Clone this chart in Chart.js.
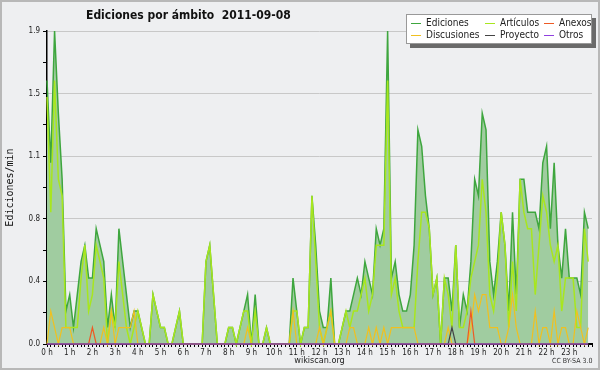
<!DOCTYPE html>
<html>
<head>
<meta charset="utf-8">
<script src="https://cdn.jsdelivr.net/npm/chart.js@4.4.1/dist/chart.umd.min.js"></script>
<style>
  body { margin: 0; background: #eeeff1; }
  #wrap { position: relative; width: 600px; height: 370px; overflow: hidden;
          font-family: "DejaVu Sans Condensed", "DejaVu Sans", sans-serif; }
  #frame { position: absolute; left: 0; top: 0; width: 600px; height: 370px; box-sizing: border-box;
           border: 2px solid #b8b8b8; pointer-events: none; }
  #title { position: absolute; left: 86px; top: 8px; font-weight: bold; font-size: 12px;
           white-space: pre; color: #111; }
  #legend { position: absolute; left: 406px; top: 14px; width: 186px; height: 30px; box-sizing: border-box;
            background: #fff; border: 1px solid #999; box-shadow: 4px 4px 0 #6a6a6a; }
  .item { position: absolute; font-size: 10px; line-height: 12px; color: #222; white-space: nowrap; }
  .item i { display: inline-block; width: 10px; height: 0; border-top: 1px solid; vertical-align: middle; margin-right: 5px; }
  #cc { position: absolute; left: 552px; top: 357px; font-size: 7px; color: #333; white-space: nowrap; }
</style>
</head>
<body>
<div id="wrap">
  <canvas id="chart" width="600" height="370"></canvas>
  <div id="title">Ediciones por ámbito  2011-09-08</div>
  <div id="legend"></div>
  <div id="cc">CC BY-SA 3.0</div>
  <div id="frame"></div>
</div>
<script>
// 10-minute slots over the day (0 = 0:00, 143 = 23:50)
const slots = Array.from({ length: 144 }, (_, i) => i);
const hourLabels = ["0 h", "1 h", "2 h", "3 h", "4 h", "5 h", "6 h", "7 h", "8 h", "9 h", "10 h", "11 h",
  "12 h", "13 h", "14 h", "15 h", "16 h", "17 h", "18 h", "19 h", "20 h", "21 h", "22 h", "23 h"];
const yTicks = [0, 0.19, 0.38, 0.57, 0.76, 0.95, 1.14, 1.33, 1.52, 1.71, 1.9];
const yLabels = ["0.0", "", "0.4", "", "0.8", "", "1.1", "", "1.5", "", "1.9"];

// edits per minute, one value per 10-minute slot
const ediciones = [
  1.6, 1.1, 1.9, 1.4, 1.0, 0.2, 0.3, 0.1, 0.3, 0.5, 0.6, 0.4,
  0.4, 0.7, 0.6, 0.5, 0.1, 0.3, 0.1, 0.7, 0.5, 0.3, 0.1, 0.2,
  0.2, 0.1, 0, 0, 0.3, 0.2, 0.1, 0.1, 0, 0, 0.1, 0.2,
  0, 0, 0, 0, 0, 0, 0.5, 0.6, 0.3, 0, 0, 0,
  0.1, 0.1, 0, 0.1, 0.2, 0.3, 0, 0.3, 0, 0, 0.1, 0,
  0, 0, 0, 0, 0, 0.4, 0.2, 0, 0.1, 0.1, 0.9, 0.6,
  0.2, 0.1, 0.1, 0.4, 0, 0, 0.1, 0.2, 0.2, 0.3, 0.4, 0.3,
  0.5, 0.4, 0.3, 0.7, 0.6, 0.7, 1.9, 0.4, 0.5, 0.3, 0.2, 0.2,
  0.3, 0.6, 1.3, 1.2, 0.9, 0.7, 0.3, 0.4, 0, 0.4, 0.4, 0.2,
  0.6, 0.1, 0.3, 0.2, 0.5, 1.0, 0.9, 1.4, 1.3, 0.5, 0.3, 0.5,
  0.8, 0.6, 0.2, 0.8, 0.3, 1.0, 1.0, 0.8, 0.8, 0.8, 0.7, 1.1,
  1.2, 0.7, 1.1, 0.6, 0.4, 0.7, 0.4, 0.4, 0.4, 0.3, 0.8, 0.7
];
const articulos = [
  1.5, 0.8, 1.6, 1.0, 0.9, 0.1, 0.1, 0.1, 0.1, 0.4, 0.6, 0.2,
  0.3, 0.6, 0.5, 0.4, 0, 0.2, 0.1, 0.5, 0.3, 0.1, 0, 0.1,
  0.2, 0.1, 0, 0, 0.3, 0.2, 0.1, 0.1, 0, 0, 0.1, 0.2,
  0, 0, 0, 0, 0, 0, 0.5, 0.6, 0.3, 0, 0, 0,
  0.1, 0.1, 0, 0.1, 0.2, 0.2, 0, 0.2, 0, 0, 0.1, 0,
  0, 0, 0, 0, 0, 0.2, 0.2, 0, 0.1, 0.1, 0.9, 0.5,
  0.1, 0, 0.1, 0.2, 0, 0, 0.1, 0.2, 0.1, 0.2, 0.2, 0.3,
  0.4, 0.2, 0.3, 0.6, 0.6, 0.6, 1.6, 0.3, 0.4, 0.2, 0.1, 0.1,
  0.1, 0.1, 0.5, 0.8, 0.8, 0.7, 0.3, 0.4, 0, 0.4, 0.3, 0.1,
  0.6, 0.1, 0.1, 0.2, 0.4, 0.5, 0.6, 1.0, 0.8, 0.3, 0.2, 0.4,
  0.8, 0.6, 0.1, 0.5, 0.2, 1.0, 0.8, 0.7, 0.7, 0.3, 0.6, 0.9,
  0.8, 0.6, 0.5, 0.6, 0.2, 0.4, 0.4, 0.4, 0.1, 0.1, 0.7, 0.5
];
const discusiones = [
  0, 0.2, 0.1, 0, 0.1, 0.1, 0.1, 0, 0, 0, 0, 0,
  0, 0, 0, 0.1, 0, 0.2, 0, 0.1, 0.1, 0.1, 0.1, 0.2,
  0, 0, 0, 0, 0, 0, 0, 0, 0, 0, 0, 0,
  0, 0, 0, 0, 0, 0, 0, 0, 0, 0, 0, 0,
  0, 0, 0, 0, 0, 0.1, 0, 0, 0, 0, 0, 0,
  0, 0, 0, 0, 0, 0.2, 0, 0, 0, 0, 0, 0,
  0.1, 0, 0.1, 0.2, 0, 0, 0, 0, 0.1, 0.1, 0, 0,
  0, 0.1, 0, 0.1, 0, 0.1, 0, 0.1, 0.1, 0.1, 0.1, 0.1,
  0.1, 0.1, 0, 0, 0, 0, 0, 0, 0, 0, 0.1, 0,
  0, 0, 0, 0, 0.1, 0.3, 0.2, 0.3, 0.3, 0.1, 0.1, 0.1,
  0, 0, 0.1, 0.3, 0.1, 0, 0, 0, 0, 0.2, 0, 0.1,
  0.1, 0, 0.2, 0, 0.1, 0.1, 0, 0, 0.2, 0.1, 0, 0.1
];
const anexos = [
  0, 0, 0, 0, 0, 0, 0, 0, 0, 0, 0, 0,
  0.1, 0, 0, 0, 0, 0, 0, 0, 0, 0, 0, 0,
  0, 0, 0, 0, 0, 0, 0, 0, 0, 0, 0, 0,
  0, 0, 0, 0, 0, 0, 0, 0, 0, 0, 0, 0,
  0, 0, 0, 0, 0, 0, 0, 0, 0, 0, 0, 0,
  0, 0, 0, 0, 0, 0, 0, 0, 0, 0, 0, 0,
  0, 0, 0, 0, 0, 0, 0, 0, 0, 0, 0, 0,
  0, 0, 0, 0, 0, 0, 0, 0, 0, 0, 0, 0,
  0, 0, 0, 0, 0, 0, 0, 0, 0, 0, 0, 0,
  0, 0, 0, 0, 0.2, 0, 0, 0, 0, 0, 0, 0,
  0, 0, 0, 0, 0, 0, 0, 0, 0, 0, 0, 0,
  0, 0, 0, 0, 0, 0, 0, 0, 0, 0, 0, 0
];
const proyecto = [
  0, 0, 0, 0, 0, 0, 0, 0, 0, 0, 0, 0,
  0, 0, 0, 0, 0, 0, 0, 0, 0, 0, 0, 0,
  0, 0, 0, 0, 0, 0, 0, 0, 0, 0, 0, 0,
  0, 0, 0, 0, 0, 0, 0, 0, 0, 0, 0, 0,
  0, 0, 0, 0, 0, 0, 0, 0, 0, 0, 0, 0,
  0, 0, 0, 0, 0, 0, 0, 0, 0, 0, 0, 0,
  0, 0, 0, 0, 0, 0, 0, 0, 0, 0, 0, 0,
  0, 0, 0, 0, 0, 0, 0, 0, 0, 0, 0, 0,
  0, 0, 0, 0, 0, 0, 0, 0, 0, 0, 0, 0.1,
  0, 0, 0, 0, 0, 0, 0, 0, 0, 0, 0, 0,
  0, 0, 0, 0, 0, 0, 0, 0, 0, 0, 0, 0,
  0, 0, 0, 0, 0, 0, 0, 0, 0, 0, 0, 0
];
const otros = [
  0, 0, 0, 0, 0, 0, 0, 0, 0, 0, 0, 0,
  0, 0, 0, 0, 0, 0, 0, 0, 0, 0, 0, 0,
  0, 0, 0, 0, 0, 0, 0, 0, 0, 0, 0, 0,
  0, 0, 0, 0, 0, 0, 0, 0, 0, 0, 0, 0,
  0, 0, 0, 0, 0, 0, 0, 0, 0, 0, 0, 0,
  0, 0, 0, 0, 0, 0, 0, 0, 0, 0, 0, 0,
  0, 0, 0, 0, 0, 0, 0, 0, 0, 0, 0, 0,
  0, 0, 0, 0, 0, 0, 0, 0, 0, 0, 0, 0,
  0, 0, 0, 0, 0, 0, 0, 0, 0, 0, 0, 0,
  0, 0, 0, 0, 0, 0, 0, 0, 0, 0, 0, 0,
  0, 0, 0, 0, 0, 0, 0, 0, 0, 0, 0, 0,
  0, 0, 0, 0, 0, 0, 0, 0, 0, 0, 0, 0
];

const colors = {
  Ediciones: "#3ea63e",
  "Artículos": "#a8e61e",
  Discusiones: "#f0c020",
  Anexos: "#ee5a24",
  Proyecto: "#444444",
  Otros: "#9040e0"
};

// legend, two rows of three like the original
const legendRows = [["Ediciones", "Artículos", "Anexos"], ["Discusiones", "Proyecto", "Otros"]];
const legendCols = [4, 78, 137];
const legend = document.getElementById("legend");
legendRows.forEach((row, r) => {
  row.forEach((name, c) => {
    const item = document.createElement("div");
    item.className = "item";
    item.style.left = legendCols[c] + "px";
    item.style.top = (2 + r * 12) + "px";
    item.innerHTML = '<i style="border-color:' + colors[name] + '"></i>' + name;
    legend.appendChild(item);
  });
});

const font = "'DejaVu Sans Condensed', 'DejaVu Sans', sans-serif";

new Chart(document.getElementById("chart"), {
  type: "line",
  data: {
    labels: slots,
    datasets: [
      { label: "Ediciones", data: ediciones, borderColor: colors.Ediciones, backgroundColor: "#a0cca0",
        fill: "origin", borderWidth: 1.5, order: 6 },
      { label: "Artículos", data: articulos, borderColor: colors["Artículos"], borderWidth: 1.5, order: 5 },
      { label: "Discusiones", data: discusiones, borderColor: colors.Discusiones, borderWidth: 1.2, order: 4 },
      { label: "Anexos", data: anexos, borderColor: colors.Anexos, borderWidth: 1.2, order: 3 },
      { label: "Proyecto", data: proyecto, borderColor: colors.Proyecto, borderWidth: 1.2, order: 2 },
      { label: "Otros", data: otros, borderColor: colors.Otros, borderWidth: 1.2, order: 1 }
    ]
  },
  options: {
    responsive: false,
    animation: false,
    devicePixelRatio: 1,
    layout: { padding: { top: 31, right: 8, left: 0, bottom: 0 } },
    elements: { point: { radius: 0 }, line: { tension: 0, fill: false } },
    datasets: { line: { clip: 3 } },
    plugins: {
      legend: { display: false },
      tooltip: { enabled: false },
      filler: { drawTime: "beforeDatasetsDraw" }
    },
    scales: {
      x: {
        type: "linear",
        min: 0,
        max: 144,
        z: 1,
        afterBuildTicks: (scale) => { scale.ticks = slots.concat([144]).map(v => ({ value: v })); },
        afterFit: (scale) => { scale.height = 26; },
        ticks: {
          autoSkip: false, maxRotation: 0, minRotation: 0, padding: 1,
          color: "#222", font: { family: font, size: 8 },
          callback: (v) => (v % 6 === 0 && hourLabels[v / 6]) ? hourLabels[v / 6] : ""
        },
        grid: { drawOnChartArea: false, color: "#000", tickColor: "#000", tickLength: 3 },
        border: { color: "#000", width: 2 },
        title: { display: true, text: "wikiscan.org", color: "#222",
                 font: { family: font, size: 9 }, padding: { top: 0, bottom: 4 } }
      },
      y: {
        min: 0,
        max: 1.9,
        afterBuildTicks: (scale) => { scale.ticks = yTicks.map(v => ({ value: v })); },
        afterFit: (scale) => { scale.width = 47; },
        ticks: {
          padding: 3, color: "#222", font: { family: font, size: 8 },
          callback: (v, i) => yLabels[i]
        },
        grid: {
          color: (ctx) => (ctx.index > 0 && ctx.index % 2 === 0) ? "#c8c8c8" : "rgba(0,0,0,0)",
          tickColor: "#000", tickLength: 4
        },
        border: { color: "#000", width: 1.5 },
        title: { display: true, text: "Ediciones/min", color: "#111",
                 font: { family: "'DejaVu Sans Mono', monospace", size: 10 }, padding: { top: 4, bottom: 0 } }
      }
    }
  }
});
</script>
</body>
</html>
